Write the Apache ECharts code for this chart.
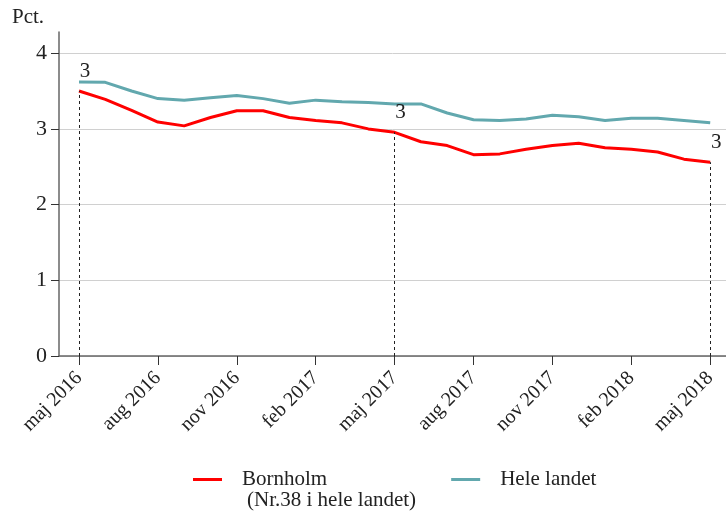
<!DOCTYPE html>
<html><head><meta charset="utf-8">
<script src="https://cdn.jsdelivr.net/npm/echarts@6/dist/echarts.min.js"></script>
<style>html,body{margin:0;padding:0;background:#fff}#c{width:726px;height:513px}</style>
</head><body><div id="c"></div>
<script>
const months = ['maj 2016','jun 2016','jul 2016','aug 2016','sep 2016','okt 2016','nov 2016','dec 2016','jan 2017','feb 2017','mar 2017','apr 2017','maj 2017','jun 2017','jul 2017','aug 2017','sep 2017','okt 2017','nov 2017','dec 2017','jan 2018','feb 2018','mar 2018','apr 2018','maj 2018'];
const bornholm = [3.50,3.39,3.245,3.09,3.04,3.15,3.24,3.24,3.15,3.11,3.08,3.00,2.955,2.83,2.78,2.66,2.67,2.73,2.78,2.81,2.75,2.73,2.695,2.60,2.56];
const heleLandet = [3.62,3.615,3.50,3.40,3.38,3.41,3.44,3.40,3.34,3.38,3.36,3.35,3.33,3.33,3.21,3.12,3.11,3.13,3.18,3.16,3.11,3.14,3.14,3.11,3.08];
const tickMonths = [0,3,6,9,12,15,18,21,24];
const rankIdx = [0,12,24];
const rankLabels = ['3','3','3'];
const yTicks = [0,1,2,3,4];
const seriesNames = ['Bornholm','Hele landet'];
const bornholmNote = '(Nr.38 i hele landet)';

const font = 'Liberation Serif';
const chart = echarts.init(document.getElementById('c'), null, {renderer:'canvas'});
chart.setOption({
  animation:false,
  textStyle:{fontFamily:font},
  graphic:[
    {type:'text', left:12, top:7, style:{text:'Pct.', font:'21px "Liberation Serif"', fill:'#222'}},
    {type:'text', left:247, top:490, style:{text:bornholmNote, font:'21px "Liberation Serif"', fill:'#222'}}
  ],
  grid:{left:59, right:0, top:32, bottom:157},
  legend:{
    top:464, left:188, itemWidth:29, itemHeight:3, itemGap:124,
    icon:'rect',
    textStyle:{fontFamily:font, fontSize:21, color:'#222', padding:[0,0,0,15]},
    data:seriesNames
  },
  xAxis:{
    type:'value', min:-0.76, max:24.6,
    axisLine:{show:true, onZero:false, lineStyle:{color:'#666', width:1.5}},
    axisTick:{show:true, length:9, lineStyle:{color:'#333'}, customValues:tickMonths},
    axisLabel:{customValues:tickMonths, rotate:45, fontFamily:font, fontSize:20, color:'#222', margin:19, padding:[19,0,0,0], formatter:v=>months[v]},
    splitLine:{show:false}
  },
  yAxis:{
    type:'value', min:0, max:4.28, interval:1,
    axisLine:{show:true, onZero:false, lineStyle:{color:'#666', width:1.5}},
    axisTick:{show:true, length:8, lineStyle:{color:'#333'}, customValues:yTicks},
    axisLabel:{customValues:yTicks, fontFamily:font, fontSize:22, color:'#222', margin:12},
    splitLine:{show:true, lineStyle:{color:'#d0d0d0', width:1}}
  },
  series:[
    {
      name:seriesNames[0], type:'line', symbol:'none',
      data:bornholm.map((v,i)=>[i,v]),
      lineStyle:{color:'#ff0000', width:3}, itemStyle:{color:'#ff0000'}, z:3,
      markLine:{
        silent:true, symbol:'none',
        lineStyle:{color:'#222', type:[3,3], width:1},
        label:{show:true, position:'end', distance:9, offset:[6,0], fontFamily:font, fontSize:21, color:'#222', formatter:p=>rankLabels[p.dataIndex]},
        data:rankIdx.map(i=>[{coord:[i,0]},{coord:[i,bornholm[i]]}])
      }
    },
    {
      name:seriesNames[1], type:'line', symbol:'none',
      data:heleLandet.map((v,i)=>[i,v]),
      lineStyle:{color:'#62a8ae', width:3}, itemStyle:{color:'#62a8ae'}, z:2
    }
  ]
});
</script></body></html>
